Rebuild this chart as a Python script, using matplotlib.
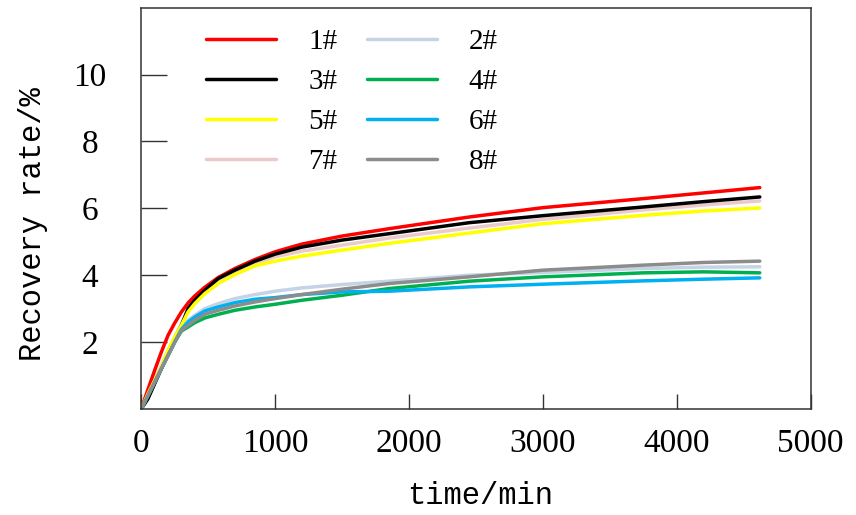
import numpy as np
import matplotlib
matplotlib.use("Agg")
import matplotlib.pyplot as plt

# sampling times (min) shared by all cores
t = [0, 50, 100, 150, 200, 250, 300, 350, 400, 475, 575, 700, 850, 1000,
     1200, 1500, 1850, 2450, 3000, 3750, 4200, 4620]

# recovery rate (%) of each core
r1 = [0, 0.58, 1.15, 1.7, 2.2, 2.57, 2.9, 3.17, 3.38, 3.64, 3.93, 4.2, 4.47, 4.7,
      4.93, 5.17, 5.39, 5.74, 6.02, 6.29, 6.46, 6.62]
r2 = [0, 0.4, 0.8, 1.2, 1.6, 2.0, 2.4, 2.65, 2.8, 3.0, 3.15, 3.3, 3.42, 3.52,
      3.62, 3.72, 3.82, 4.0, 4.08, 4.2, 4.24, 4.25]
r3 = [0, 0.3, 0.75, 1.2, 1.65, 2.1, 2.5, 3.0, 3.25, 3.55, 3.9, 4.15, 4.42, 4.63,
      4.84, 5.05, 5.24, 5.57, 5.78, 6.04, 6.2, 6.34]
r4 = [0, 0.4, 0.8, 1.2, 1.6, 2.0, 2.33, 2.45, 2.58, 2.72, 2.83, 2.95, 3.05, 3.13,
      3.25, 3.4, 3.6, 3.82, 3.95, 4.07, 4.1, 4.07]
r5 = [0, 0.45, 0.85, 1.25, 1.75, 2.15, 2.5, 2.9, 3.15, 3.45, 3.75, 4.02, 4.28, 4.42,
      4.57, 4.75, 4.95, 5.26, 5.54, 5.79, 5.92, 6.01]
r6 = [0, 0.4, 0.8, 1.2, 1.6, 2.0, 2.38, 2.6, 2.75, 2.93, 3.05, 3.18, 3.28, 3.33,
      3.42, 3.5, 3.52, 3.65, 3.73, 3.83, 3.88, 3.92]
r7 = [0, 0.4, 0.85, 1.3, 1.75, 2.15, 2.55, 2.95, 3.2, 3.52, 3.85, 4.1, 4.35, 4.55,
      4.72, 4.9, 5.11, 5.41, 5.67, 5.95, 6.1, 6.22]
r8 = [0, 0.4, 0.8, 1.2, 1.6, 2.0, 2.35, 2.5, 2.65, 2.83, 2.95, 3.08, 3.2, 3.3,
      3.42, 3.58, 3.75, 3.95, 4.15, 4.3, 4.38, 4.42]

names = ["1#", "2#", "3#", "4#", "5#", "6#", "7#", "8#"]
series = [r1, r2, r3, r4, r5, r6, r7, r8]
colors = ["#ff0000", "#c5d4e5", "#000000", "#00b050",
          "#ffff00", "#00b0f0", "#ebcaca", "#8c8c8c"]

xticks = [0, 1000, 2000, 3000, 4000, 5000]
yticks = [2, 4, 6, 8, 10]

fig = plt.figure(figsize=(8.56, 5.15), dpi=100)
ax = fig.add_axes([0.165, 0.206, 0.782, 0.779])

# pale curves go underneath
order = [6, 1, 0, 2, 3, 4, 5, 7]
lines = {}
for i in order:
    ln, = ax.plot(t, series[i], color=colors[i], lw=2.5, label=names[i],
                  solid_capstyle="round", solid_joinstyle="round")
    lines[i] = ln

ax.set_xlim(0, 5000)
ax.set_ylim(0, 12)
ax.set_xticks(xticks)
ax.set_yticks(yticks)

tickfont = {"family": "Liberation Serif", "size": 24}
ax.set_xticklabels([str(v) for v in xticks], fontdict=tickfont)
ax.set_yticklabels([str(v) for v in yticks], fontdict=tickfont, ha="center")
ax.tick_params(axis="x", direction="in", length=11, width=1, pad=14, colors="#333333",
               labelcolor="black")
ax.tick_params(axis="y", direction="in", length=19, width=1, pad=37, colors="#333333",
               labelcolor="black")
for sp in ax.spines.values():
    sp.set_color("#333333")
    sp.set_linewidth(1.1)

labfont = {"family": "Liberation Mono", "size": 22}
ax.set_xlabel("time/min", fontdict=labfont)
ax.set_ylabel("Recovery rate/%", fontdict=labfont)
ax.xaxis.set_label_coords(0.506, -0.18)
ax.yaxis.set_label_coords(-0.14, 0.46)

# legend filled row by row: 1# 2# / 3# 4# / ...
leg_idx = [0, 2, 4, 6, 1, 3, 5, 7]
ax.legend([lines[i] for i in leg_idx], [names[i] for i in leg_idx],
          ncol=2, loc="upper left", bbox_to_anchor=(0.097, 0.948),
          frameon=False, borderpad=0, borderaxespad=0,
          prop={"family": "Liberation Serif", "size": 21},
          handlelength=2.4, handletextpad=1.1, columnspacing=1.0,
          labelspacing=0.47)

fig.savefig("out.png", dpi=100)
